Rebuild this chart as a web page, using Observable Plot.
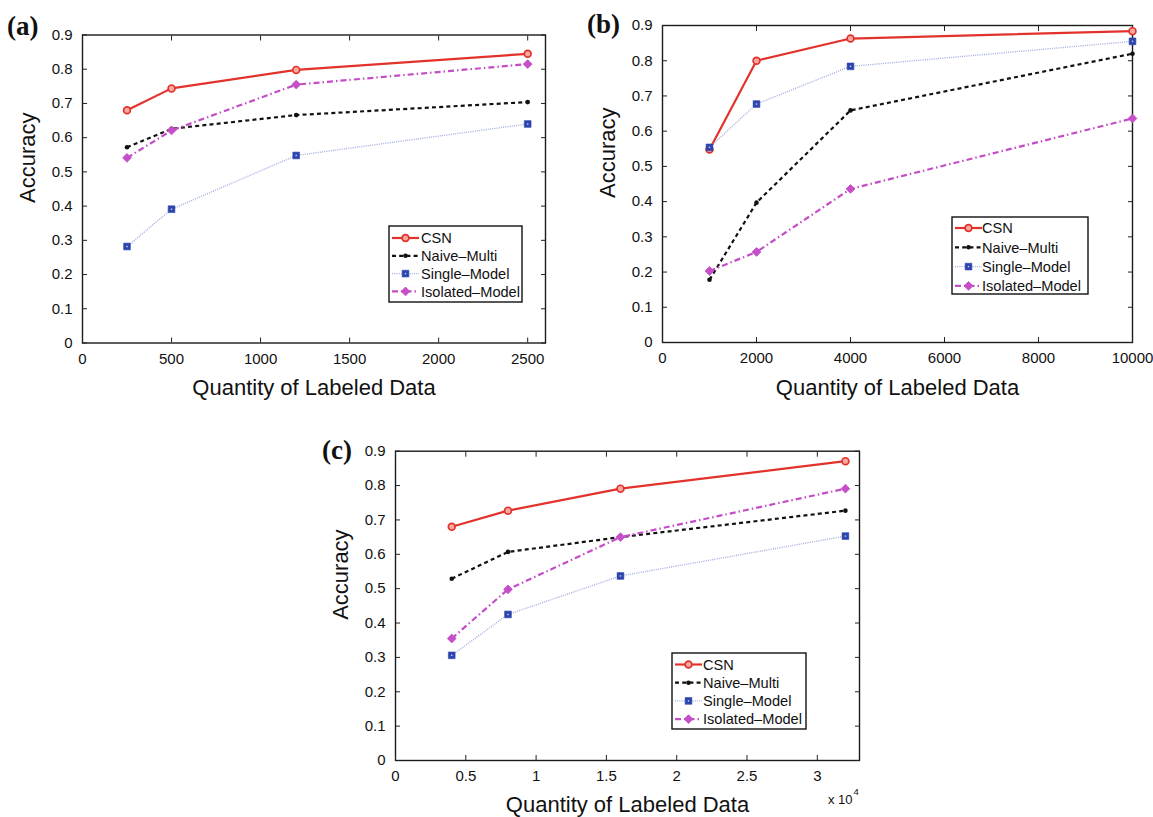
<!DOCTYPE html>
<html><head><meta charset="utf-8">
<script src="https://cdn.jsdelivr.net/npm/d3@7"></script>
<script src="https://cdn.jsdelivr.net/npm/@observablehq/plot@0.6"></script>
<style>
body{margin:0;background:#fff;}
#wrap{position:relative;width:1153px;height:817px;overflow:hidden;font-family:"Liberation Sans",Arial,sans-serif;background:#fff;}
.panel{position:absolute;}
.letter{position:absolute;font-family:"Liberation Serif","Times New Roman",serif;font-weight:bold;font-size:27px;line-height:1;color:#111;}
.legend{position:absolute;}
</style></head><body><div id="wrap"></div>
<script>
// ---------- data ----------
const seriesNames = ["CSN", "Naive–Multi", "Single–Model", "Isolated–Model"];

const xA = [250, 500, 1200, 2500];
const csnA = [0.680, 0.744, 0.798, 0.845];
const naiveA = [0.572, 0.626, 0.666, 0.704];
const singleA = [0.282, 0.391, 0.548, 0.640];
const isolatedA = [0.541, 0.621, 0.755, 0.815];

const xB = [1000, 2000, 4000, 10000];
const csnB = [0.548, 0.800, 0.863, 0.884];
const naiveB = [0.178, 0.397, 0.659, 0.820];
const singleB = [0.554, 0.677, 0.784, 0.855];
const isolatedB = [0.203, 0.257, 0.436, 0.636];

const xC = [4000, 8000, 16000, 32000];
const csnC = [0.680, 0.727, 0.791, 0.871];
const naiveC = [0.529, 0.607, 0.650, 0.727];
const singleC = [0.306, 0.425, 0.537, 0.653];
const isolatedC = [0.355, 0.498, 0.650, 0.791];

const yTicks = [0, 0.1, 0.2, 0.3, 0.4, 0.5, 0.6, 0.7, 0.8, 0.9];
const xTicksA = [0, 500, 1000, 1500, 2000, 2500];
const xTicksB = [0, 2000, 4000, 6000, 8000, 10000];
const xTicksC = [0, 5000, 10000, 15000, 20000, 25000, 30000];

const yLabel = "Accuracy";
const xLabel = "Quantity of Labeled Data";

// ---------- styles ----------
const styles = [
  {line: {stroke: "#e3322b", strokeWidth: 2.2},
   dot: {symbol: "circle", r: 3.4, fill: "#f4aaa2", stroke: "#e3322b", strokeWidth: 1.7}},
  {line: {stroke: "#111", strokeWidth: 2.2, strokeDasharray: "4,3.2"},
   dot: {symbol: "circle", r: 2.3, fill: "#111", stroke: "none"}},
  {line: {stroke: "#a3acdf", strokeWidth: 1.4, strokeDasharray: "1,1.2"},
   dot: {symbol: "square", r: 3.8, fill: "#2c45ad", stroke: "#2c45ad", strokeWidth: 0.6},
   inner: {symbol: "square", r: 0.8, fill: "#c9d0f2", stroke: "none"}},
  {line: {stroke: "#c44cc6", strokeWidth: 2.2, strokeDasharray: "6,3,1.5,3"},
   dot: {symbol: "square", rotate: 45, r: 3.5, fill: "#c64fc9", stroke: "#c64fc9", strokeWidth: 0.8}}
];

const wrap = document.getElementById("wrap");
const fmtY = d => String(+d.toFixed(1));

function panel(cfg) {
  const series = cfg.ys.map((ys, k) => cfg.x.map((x, i) => ({x, y: ys[i], s: seriesNames[k]})));
  const marks = [
    Plot.frame({stroke: "#1a1a1a", strokeWidth: 1.4}),
    Plot.axisY({anchor: "left", ticks: yTicks, tickSize: -5, tickPadding: 15, tickFormat: fmtY, fontSize: 15, fill: "#111", label: null}),
    Plot.axisY({anchor: "right", ticks: yTicks, tickSize: -5, tickFormat: () => "", label: null}),
    Plot.axisX({anchor: "bottom", ticks: cfg.xTicks, tickSize: -5, tickPadding: 15, tickFormat: cfg.xFormat, fontSize: 15, fill: "#111", label: null}),
    Plot.axisX({anchor: "top", ticks: cfg.xTicks, tickSize: -5, tickFormat: () => "", label: null}),
    Plot.text([yLabel], {text: d => d, frameAnchor: "left", rotate: -90, dx: -55, dy: 14, fontSize: 22, fill: "#111"}),
    Plot.text([xLabel], {text: d => d, frameAnchor: "bottom", dy: cfg.titleDy, fontSize: 22, fill: "#111"})
  ];
  series.forEach((data, k) => {
    marks.push(Plot.line(data, {x: "x", y: "y", strokeLinecap: "butt", ...styles[k].line}));
  });
  series.forEach((data, k) => {
    marks.push(Plot.dot(data, {x: "x", y: "y", ...styles[k].dot}));
    if (styles[k].inner) marks.push(Plot.dot(data, {x: "x", y: "y", ...styles[k].inner}));
  });
  if (cfg.extra) marks.push(...cfg.extra);
  const svg = Plot.plot({
    width: cfg.box.width, height: cfg.box.height,
    marginLeft: cfg.m[0], marginTop: cfg.m[1], marginRight: cfg.m[2], marginBottom: cfg.m[3],
    x: {domain: cfg.xDomain},
    y: {domain: [0, 0.9]},
    style: {color: "#222", fontFamily: "'Liberation Sans', Arial, sans-serif", background: "transparent", overflow: "visible"},
    marks
  });
  svg.classList.add("panel");
  svg.style.left = cfg.box.left + "px";
  svg.style.top = cfg.box.top + "px";
  wrap.appendChild(svg);

  const L = document.createElement("div");
  L.className = "letter";
  L.textContent = cfg.letter.t;
  L.style.left = cfg.letter.left + "px";
  L.style.top = cfg.letter.top + "px";
  wrap.appendChild(L);

  legend(cfg.legend);
}

function legend(lg) {
  const svg = d3.create("svg").attr("class", "legend")
    .attr("width", lg.w + 2).attr("height", lg.h + 2)
    .style("left", (lg.left - 1) + "px").style("top", (lg.top - 1) + "px");
  svg.append("rect").attr("x", 1).attr("y", 1).attr("width", lg.w).attr("height", lg.h)
    .attr("fill", "#fff").attr("stroke", "#111").attr("stroke-width", 1.4);
  seriesNames.forEach((name, k) => {
    const y = 1 + lg.row0 + k * lg.step;
    const st = styles[k];
    svg.append("line").attr("x1", 4).attr("x2", 31).attr("y1", y).attr("y2", y)
      .attr("stroke", st.line.stroke).attr("stroke-width", st.line.strokeWidth)
      .attr("stroke-dasharray", st.line.strokeDasharray || null);
    const sym = st.dot.symbol === "circle" ? d3.symbolCircle : d3.symbolSquare;
    svg.append("path").attr("d", d3.symbol(sym, Math.PI * st.dot.r * st.dot.r)())
      .attr("transform", `translate(17.5,${y}) rotate(${st.dot.rotate || 0})`)
      .attr("fill", st.dot.fill).attr("stroke", st.dot.stroke)
      .attr("stroke-width", st.dot.strokeWidth || 0);
    if (st.inner) svg.append("path").attr("d", d3.symbol(d3.symbolSquare, Math.PI * st.inner.r * st.inner.r)())
      .attr("transform", `translate(17.5,${y})`).attr("fill", st.inner.fill);
    svg.append("text").attr("x", lg.tx).attr("y", y + 5.2).text(name)
      .attr("font-size", 14.6).attr("fill", "#111")
      .attr("font-family", "'Liberation Sans', Arial, sans-serif");
  });
  wrap.appendChild(svg.node());
}

panel({
  x: xA, ys: [csnA, naiveA, singleA, isolatedA], xDomain: [0, 2600], xTicks: xTicksA, xFormat: d => String(d),
  box: {left: 0, top: 0, width: 560, height: 410}, m: [82, 34.5, 15, 67.5], titleDy: 52,
  letter: {t: "(a)", left: 7, top: 13},
  legend: {left: 389, top: 226, w: 133, h: 76, row0: 12, step: 17.8, tx: 33}
});
panel({
  x: xB, ys: [csnB, naiveB, singleB, isolatedB], xDomain: [0, 10000], xTicks: xTicksB, xFormat: d => String(d),
  box: {left: 580, top: 0, width: 573, height: 410}, m: [82, 25, 21, 68], titleDy: 52,
  letter: {t: "(b)", left: 587, top: 11},
  legend: {left: 952, top: 217, w: 136, h: 77, row0: 11, step: 19.3, tx: 31}
});
panel({
  x: xC, ys: [csnC, naiveC, singleC, isolatedC], xDomain: [0, 33000], xTicks: xTicksC, xFormat: d => String(d / 1e4),
  box: {left: 313, top: 417, width: 560, height: 400}, m: [82, 33.7, 14, 57], titleDy: 51,
  letter: {t: "(c)", left: 322, top: 437},
  legend: {left: 672, top: 653, w: 134, h: 76, row0: 11.5, step: 18.2, tx: 32},
  extra: [
    Plot.text(["x 10"], {text: d => d, frameAnchor: "bottom-right", textAnchor: "end", dx: -7, dy: 43, fontSize: 13, fill: "#111"}),
    Plot.text(["4"], {text: d => d, frameAnchor: "bottom-right", textAnchor: "start", dx: -6, dy: 34, fontSize: 9.5, fill: "#111"})
  ]
});
</script></body></html>
